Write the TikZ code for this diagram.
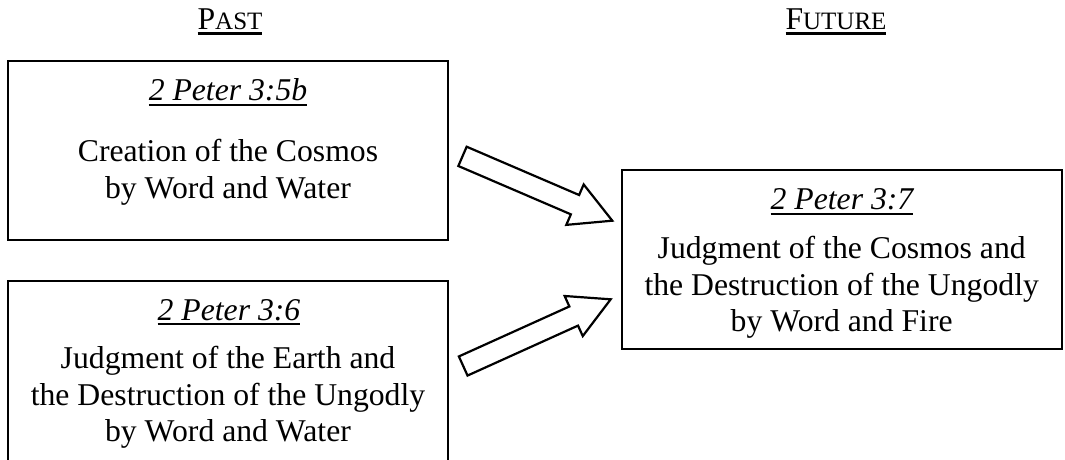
\documentclass[tikz,border=0pt]{standalone}
\usepackage{fontspec}
\setmainfont{Liberation Serif}
\usetikzlibrary{calc}

% underline set a few points below the baseline
\newcommand{\ulx}[1]{\setbox0\hbox{#1}\rlap{\vrule width\wd0 height -3.2pt depth 5.4pt}\box0}
% small capitals built from a capital and reduced letters
\newcommand{\fakesc}[2]{#1{\fontsize{25}{25}\selectfont #2}}

% hollow block arrow from #1 to #2
\newcommand{\blockarrow}[2]{%
  \path let \p1=($(#2)-(#1)$) in \pgfextra{%
    \pgfmathsetmacro\arrang{atan2(\y1,\x1)}%
    \pgfmathsetmacro\arrlen{veclen(\x1,\y1)}%
    \global\let\arrang\arrang\global\let\arrlen\arrlen};
  \draw[hollowarrow, shift={(#1)}, rotate=\arrang]
    (0,-10.5) -- (\arrlen-40.6,-10.5) -- (\arrlen-40.6,-22) -- (\arrlen,0)
    -- (\arrlen-40.6,22) -- (\arrlen-40.6,10.5) -- (0,10.5) -- cycle;
}

\tikzset{
  box/.style={draw, line width=2pt, minimum width=440pt, minimum height=179pt, inner sep=0pt},
  txt/.style={anchor=base, inner sep=0pt, font=\fontsize{31.7}{36.7}\selectfont},
  ref/.style={anchor=base, inner sep=0pt, font=\fontsize{31.7}{36.7}\selectfont\itshape},
  hollowarrow/.style={draw, line width=2.2pt, line join=miter, fill=white},
}

\begin{document}
\begin{tikzpicture}[x=1pt, y=-1pt]
\useasboundingbox (0,0) rectangle (1065,460);

% column headings
\node[txt] (past) at (230,29.3) {\ulx{\fakesc{P}{AST}}};
\node[txt] (future) at (836,29.3) {\ulx{\fakesc{F}{UTURE}}};

% boxes (the lower one runs past the bottom edge)
\node[box] (b1) at (228,150.35) {};
\node[box, minimum height=184pt] (b2) at (228,373) {};
\node[box] (b3) at (841.7,259.5) {};

% 2 Peter 3:5b
\node[ref] (r1) at (228,100.7) {\ulx{2 Peter 3:5b}};
\node[txt] (b1l1) at (228,161.7) {Creation of the Cosmos};
\node[txt] (b1l2) at (228,198.3) {by Word and Water};

% 2 Peter 3:6
\node[ref] (r2) at (229,320) {\ulx{2 Peter 3:6}};
\node[txt] (b2l1) at (228,368.3) {Judgment of the Earth and};
\node[txt] (b2l2) at (228,405) {the Destruction of the Ungodly};
\node[txt] (b2l3) at (228,441.7) {by Word and Water};

% 2 Peter 3:7
\node[ref] (r3) at (842,209.3) {\ulx{2 Peter 3:7}};
\node[txt] (b3l1) at (841.7,258.3) {Judgment of the Cosmos and};
\node[txt] (b3l2) at (841.7,295) {the Destruction of the Ungodly};
\node[txt] (b3l3) at (841.7,331.7) {by Word and Fire};

% arrow ends
\coordinate (a1s) at ($(b1.east)+(13.5,6)$);
\coordinate (a1e) at ($(b3.west)+(-8.4,-38.8)$);
\coordinate (a2s) at ($(b2.east)+(14.2,-7)$);
\coordinate (a2e) at ($(b3.west)+(-10,39.8)$);

\blockarrow{a1s}{a1e}
\blockarrow{a2s}{a2e}
\end{tikzpicture}
\end{document}
